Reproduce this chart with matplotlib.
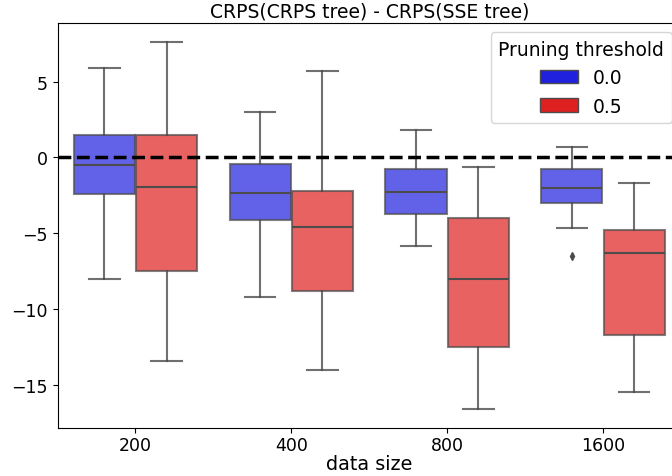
import matplotlib
matplotlib.use("Agg")
import matplotlib.pyplot as plt
import matplotlib.colors as mcolors
from matplotlib.patches import Patch
import colorsys

# ------------------------------------------------------------
# Data (box statistics)
# ------------------------------------------------------------
data_sizes = ["200", "400", "800", "1600"]
thresholds = ["0.0", "0.5"]

# pruning threshold 0.0
whislo_00 = [-8.0, -9.2, -5.85, -4.65]
q1_00     = [-2.4, -4.1, -3.7, -3.0]
med_00    = [-0.5, -2.35, -2.25, -2.0]
q3_00     = [1.5, -0.45, -0.75, -0.75]
whishi_00 = [5.9, 3.0, 1.8, 0.7]
fliers_00 = [[], [], [], [-6.45]]

# pruning threshold 0.5
whislo_05 = [-13.4, -13.95, -16.55, -15.45]
q1_05     = [-7.5, -8.8, -12.5, -11.7]
med_05    = [-1.95, -4.55, -8.0, -6.3]
q3_05     = [1.45, -2.2, -3.95, -4.8]
whishi_05 = [7.6, 5.7, -0.6, -1.65]
fliers_05 = [[], [], [], []]


def desaturate(color, prop=0.75):
    r, g, b = mcolors.to_rgb(color)
    h, l, s = colorsys.rgb_to_hls(r, g, b)
    return colorsys.hls_to_rgb(h, l, s * prop)


colors = [desaturate("blue"), desaturate("red")]
gray = "#4c4c4c"

fig = plt.figure(figsize=(6.72, 4.77), dpi=100)
ax = fig.add_axes([0.0856, 0.1006, 0.9277, 0.8491])

groups = [
    (whislo_00, q1_00, med_00, q3_00, whishi_00, fliers_00),
    (whislo_05, q1_05, med_05, q3_05, whishi_05, fliers_05),
]
offsets = [-0.2, 0.2]

for h, (lo, q1, med, q3, hi, fl) in enumerate(groups):
    stats = []
    for i in range(len(data_sizes)):
        stats.append({"whislo": lo[i], "q1": q1[i], "med": med[i],
                      "q3": q3[i], "whishi": hi[i], "fliers": fl[i]})
    pos = [i + offsets[h] for i in range(len(data_sizes))]
    ax.bxp(stats, positions=pos, widths=0.392, patch_artist=True,
           manage_ticks=False,
           boxprops=dict(facecolor=colors[h], edgecolor=gray, linewidth=1.5, alpha=0.7),
           whiskerprops=dict(color=gray, linewidth=1.5, alpha=0.8),
           capprops=dict(color=gray, linewidth=1.5, alpha=0.8),
           medianprops=dict(color=gray, linewidth=1.5),
           flierprops=dict(marker="d", markerfacecolor=gray, markeredgecolor=gray,
                           markersize=4, linestyle="none"))

ax.axhline(0, color="black", linestyle="--", linewidth=2.5)

ax.set_xlim(-0.5, len(data_sizes) - 0.5)
ax.set_ylim(-17.8, 8.85)
ax.set_xticks(range(len(data_sizes)))
ax.set_xticklabels(data_sizes)
ax.set_yticks([5, 0, -5, -10, -15])
ax.tick_params(labelsize=12.5)
ax.tick_params(axis="x", pad=2.5)
ax.set_xlabel("data size", fontsize=13.8, labelpad=0)
ax.set_title("CRPS(CRPS tree) - CRPS(SSE tree)", fontsize=13.5, pad=5)

handles = [Patch(facecolor=colors[k], edgecolor=gray, linewidth=1, label=thresholds[k])
           for k in range(len(thresholds))]
ax.legend(handles=handles, title="Pruning threshold", loc="upper right",
          fontsize=13.5, title_fontsize=13.5)

fig.savefig("out.png", dpi=100)
